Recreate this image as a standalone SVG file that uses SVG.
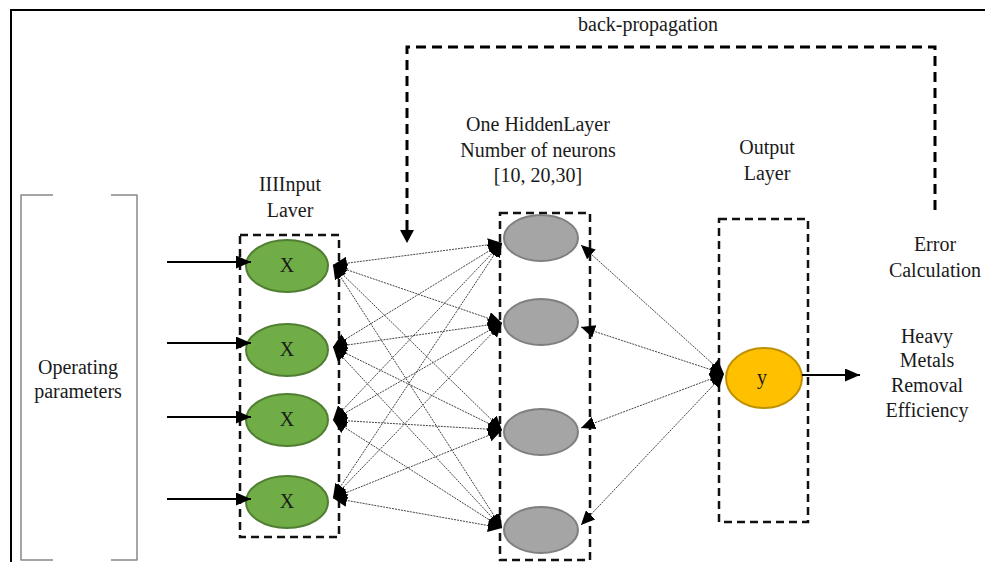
<svg xmlns="http://www.w3.org/2000/svg" width="985" height="562" viewBox="0 0 985 562">
<style>
text{font-family:"Liberation Serif","Times New Roman",serif;font-size:20px;fill:#1a1a1a;text-anchor:middle}
.box{fill:none;stroke:#111;stroke-width:2.5;stroke-dasharray:8,5}
.in{fill:#70AD47;stroke:#507E32;stroke-width:2}
.hid{fill:#A5A5A5;stroke:#7F7F7F;stroke-width:2}
.out{fill:#FFC000;stroke:#BF9000;stroke-width:2}
.conn{stroke:#444;stroke-width:1;stroke-dasharray:2,1;fill:none;marker-start:url(#sm);marker-end:url(#sm)}
.solid{stroke:#000;stroke-width:2;fill:none;marker-end:url(#big)}
</style>
<defs>
<marker id="sm" markerUnits="userSpaceOnUse" markerWidth="15" markerHeight="13" refX="14" refY="6.5" orient="auto-start-reverse" viewBox="0 0 15 13">
<path d="M0,0 L14,6.5 L0,13 z" fill="#000"/>
</marker>
<marker id="big" markerUnits="userSpaceOnUse" markerWidth="16" markerHeight="13" refX="15" refY="6.5" orient="auto" viewBox="0 0 16 13">
<path d="M0,0 L15,6.5 L0,13 z" fill="#000"/>
</marker>
</defs>
<path d="M11,562 V10 H985" fill="none" stroke="#000" stroke-width="2"/>
<g id="operating">
<path d="M53,195 H21 V560 H53 M111,195 H137 V560 H111" fill="none" stroke="#888" stroke-width="1.5" stroke-linejoin="round"/>
<text x="78" y="374">Operating</text>
<text x="78" y="398">parameters</text>
</g>
<g id="backprop">
<text x="648" y="31">back-propagation</text>
<path d="M935,210 V47 H407 V230" fill="none" stroke="#000" stroke-width="3" stroke-dasharray="10,6"/>
<path d="M400,230 L414,230 L407,243 z" fill="#000"/>
</g>
<g id="input-layer">
<text x="290" y="191">IIIInput</text>
<text x="290" y="217">Laver</text>
<rect class="box" x="240" y="235" width="99" height="302"/>
</g>
<g id="x1"><ellipse class="in" cx="287" cy="266" rx="41" ry="26"/><text x="287" y="272">X</text></g>
<g id="x2"><ellipse class="in" cx="287" cy="350" rx="41" ry="26"/><text x="287" y="356">X</text></g>
<g id="x3"><ellipse class="in" cx="287" cy="420" rx="41" ry="26"/><text x="287" y="426">X</text></g>
<g id="x4"><ellipse class="in" cx="287" cy="502" rx="41" ry="26"/><text x="287" y="508">X</text></g>
<g id="hidden-layer">
<text x="538" y="131">One HiddenLayer</text>
<text x="538" y="157">Number of neurons</text>
<text x="538" y="182">[10, 20,30]</text>
<rect class="box" x="500" y="213" width="90" height="347"/>
</g>
<g id="h1"><ellipse class="hid" cx="541" cy="238" rx="37" ry="23"/></g>
<g id="h2"><ellipse class="hid" cx="541" cy="322" rx="37" ry="23"/></g>
<g id="h3"><ellipse class="hid" cx="541" cy="432" rx="37" ry="23"/></g>
<g id="h4"><ellipse class="hid" cx="541" cy="530" rx="37" ry="23"/></g>
<g id="output-layer">
<text x="767" y="154">Output</text>
<text x="767" y="180">Layer</text>
<rect class="box" x="719" y="219" width="89" height="303"/>
</g>
<g id="y"><ellipse class="out" cx="764" cy="378" rx="38" ry="30"/><text x="762" y="384">y</text></g>
<g id="error"><text x="935" y="251">Error</text><text x="935" y="277">Calculation</text></g>
<g id="result">
<text x="927" y="343">Heavy</text>
<text x="927" y="367">Metals</text>
<text x="927" y="392">Removal</text>
<text x="927" y="417">Efficiency</text>
</g>
<g id="connectors">
<line class="solid" x1="167" y1="262" x2="251" y2="262"/>
<line class="solid" x1="167" y1="343" x2="251" y2="343"/>
<line class="solid" x1="167" y1="417" x2="251" y2="417"/>
<line class="solid" x1="167" y1="499" x2="251" y2="499"/>
<line class="solid" x1="802" y1="375" x2="860" y2="375"/>
<line class="conn" x1="333" y1="265" x2="502" y2="243"/>
<line class="conn" x1="333" y1="265" x2="502" y2="323"/>
<line class="conn" x1="333" y1="265" x2="502" y2="430"/>
<line class="conn" x1="333" y1="265" x2="502" y2="528"/>
<line class="conn" x1="333" y1="347" x2="502" y2="243"/>
<line class="conn" x1="333" y1="347" x2="502" y2="323"/>
<line class="conn" x1="333" y1="347" x2="502" y2="430"/>
<line class="conn" x1="333" y1="347" x2="502" y2="528"/>
<line class="conn" x1="333" y1="420" x2="502" y2="243"/>
<line class="conn" x1="333" y1="420" x2="502" y2="323"/>
<line class="conn" x1="333" y1="420" x2="502" y2="430"/>
<line class="conn" x1="333" y1="420" x2="502" y2="528"/>
<line class="conn" x1="333" y1="498" x2="502" y2="243"/>
<line class="conn" x1="333" y1="498" x2="502" y2="323"/>
<line class="conn" x1="333" y1="498" x2="502" y2="430"/>
<line class="conn" x1="333" y1="498" x2="502" y2="528"/>
<line class="conn" x1="581" y1="245" x2="724" y2="374"/>
<line class="conn" x1="581" y1="327" x2="724" y2="374"/>
<line class="conn" x1="581" y1="428" x2="724" y2="374"/>
<line class="conn" x1="581" y1="525" x2="724" y2="374"/>
</g>
</svg>
